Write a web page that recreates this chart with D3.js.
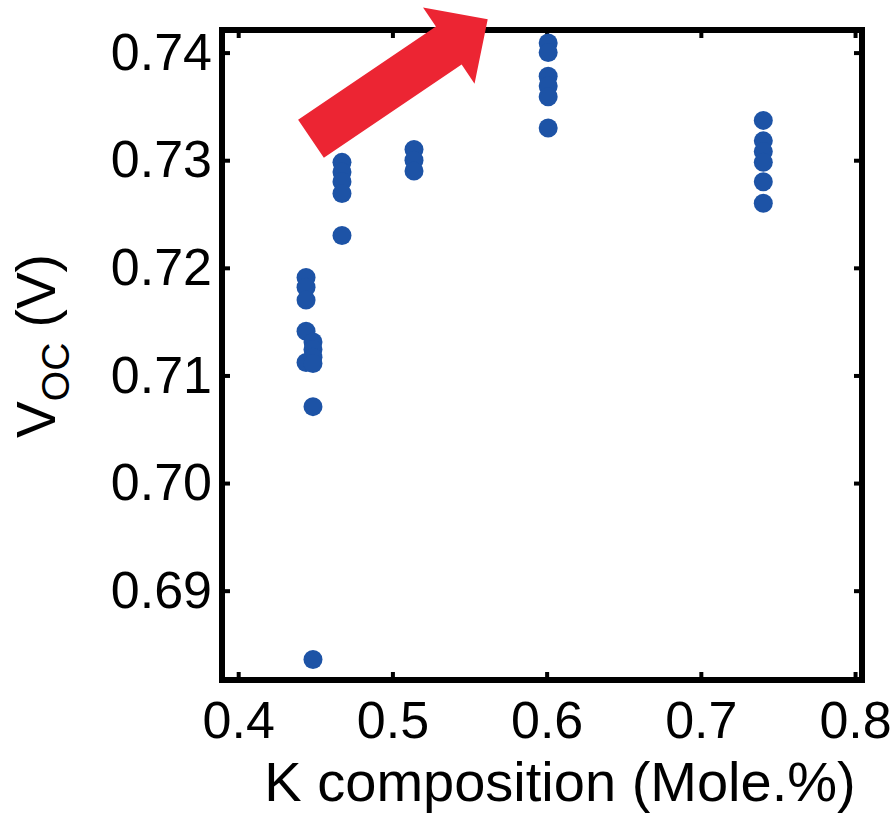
<!DOCTYPE html>
<html>
<head>
<meta charset="utf-8">
<script src="https://cdn.jsdelivr.net/npm/d3@7"></script>
<style>
  html, body { margin: 0; padding: 0; background: #ffffff; }
  svg { display: block; }
  text { font-family: "Liberation Sans", Arial, Helvetica, sans-serif; fill: #000; }
</style>
</head>
<body>
<svg id="chart" width="892" height="813"></svg>
<script>
// K composition (mole fraction) for each measured device
const kComp = [
  0.444, 0.444, 0.444, 0.444, 0.444,
  0.4485, 0.4485, 0.4485, 0.4485, 0.4485, 0.4485,
  0.4673, 0.4673, 0.4673, 0.4673, 0.4673,
  0.514, 0.514, 0.514,
  0.601, 0.601, 0.601, 0.601, 0.601, 0.601,
  0.7405, 0.7405, 0.7405, 0.7405, 0.7405, 0.7405
];
// Open-circuit voltage (V) of each device
const voc = [
  0.7191, 0.7182, 0.7170, 0.7141, 0.7112,
  0.7131, 0.7124, 0.7117, 0.7111, 0.7071, 0.6836,
  0.7298, 0.7289, 0.7280, 0.7269, 0.7230,
  0.7310, 0.7300, 0.7290,
  0.7409, 0.7400, 0.7378, 0.7369, 0.7359, 0.7330,
  0.7337, 0.7318, 0.7308, 0.7298, 0.7280, 0.7260
];
const xTicks = [0.4, 0.5, 0.6, 0.7, 0.8];
const yTicks = [0.69, 0.70, 0.71, 0.72, 0.73, 0.74];
const xDomain = [0.3895, 0.8045];
const yDomain = [0.6817, 0.7421];
// trend arrow, from tail centre to tip, in data units
const arrowFrom = [0.4472, 0.7320];
const arrowTo = [0.5618, 0.7431];

const svg = d3.select("#chart");
const plot = { left: 222, right: 862, top: 30, bottom: 680 };

const x = d3.scaleLinear().domain(xDomain).range([plot.left, plot.right]);
const y = d3.scaleLinear().domain(yDomain).range([plot.bottom, plot.top]);

const tickLen = 8;
const axisStyle = g => {
  g.select(".domain").remove();
  g.selectAll(".tick line").attr("stroke", "#000").attr("stroke-width", 4);
  g.selectAll(".tick text").attr("font-size", 52).attr("fill", "#000");
};

// bottom axis with labels
svg.append("g")
  .attr("transform", `translate(0,${plot.bottom})`)
  .call(d3.axisBottom(x).tickValues(xTicks).tickSize(-tickLen).tickPadding(21)
        .tickFormat(d3.format(".1f")))
  .call(axisStyle);
// top mirror ticks
svg.append("g")
  .attr("transform", `translate(0,${plot.top})`)
  .call(d3.axisTop(x).tickValues(xTicks).tickSize(-tickLen).tickFormat(""))
  .call(axisStyle);
// left axis with labels
svg.append("g")
  .attr("transform", `translate(${plot.left},0)`)
  .call(d3.axisLeft(y).tickValues(yTicks).tickSize(-tickLen).tickPadding(10)
        .tickFormat(d3.format(".2f")))
  .call(axisStyle);
// right mirror ticks
svg.append("g")
  .attr("transform", `translate(${plot.right},0)`)
  .call(d3.axisRight(y).tickValues(yTicks).tickSize(-tickLen).tickFormat(""))
  .call(axisStyle);

// plot frame
svg.append("rect")
  .attr("x", plot.left).attr("y", plot.top)
  .attr("width", plot.right - plot.left).attr("height", plot.bottom - plot.top)
  .attr("fill", "none").attr("stroke", "#000").attr("stroke-width", 6);

// data points
svg.append("g")
  .selectAll("circle")
  .data(kComp.map((k, i) => [k, voc[i]]))
  .join("circle")
  .attr("cx", d => x(d[0]))
  .attr("cy", d => y(d[1]))
  .attr("r", 9.5)
  .attr("fill", "#1d53a6");

// red block arrow
{
  const x0 = x(arrowFrom[0]), y0 = y(arrowFrom[1]);
  const x1 = x(arrowTo[0]), y1 = y(arrowTo[1]);
  const len = Math.hypot(x1 - x0, y1 - y0);
  const ux = (x1 - x0) / len, uy = (y1 - y0) / len;
  const nx = -uy, ny = ux;
  const shaftW = 46, headW = 92, headL = 47;
  const bx = x1 - ux * headL, by = y1 - uy * headL;
  const pts = [
    [x0 + nx * shaftW / 2, y0 + ny * shaftW / 2],
    [bx + nx * shaftW / 2, by + ny * shaftW / 2],
    [bx + nx * headW / 2, by + ny * headW / 2],
    [x1, y1],
    [bx - nx * headW / 2, by - ny * headW / 2],
    [bx - nx * shaftW / 2, by - ny * shaftW / 2],
    [x0 - nx * shaftW / 2, y0 - ny * shaftW / 2]
  ];
  svg.append("path")
    .attr("d", d3.line()(pts) + "Z")
    .attr("fill", "#ec2533");
}

// x-axis title
svg.append("text")
  .attr("x", 560)
  .attr("y", 801)
  .attr("text-anchor", "middle")
  .attr("font-size", 56)
  .text("K composition (Mole.%)");

// y-axis title with subscript
const yt = svg.append("text")
  .attr("transform", "translate(55,346) rotate(-90)")
  .attr("text-anchor", "middle")
  .attr("font-size", 55);
yt.append("tspan").text("V");
yt.append("tspan").attr("font-size", 39).attr("dy", 14).text("OC");
yt.append("tspan").attr("dy", -14).text(" (V)");
</script>
</body>
</html>
